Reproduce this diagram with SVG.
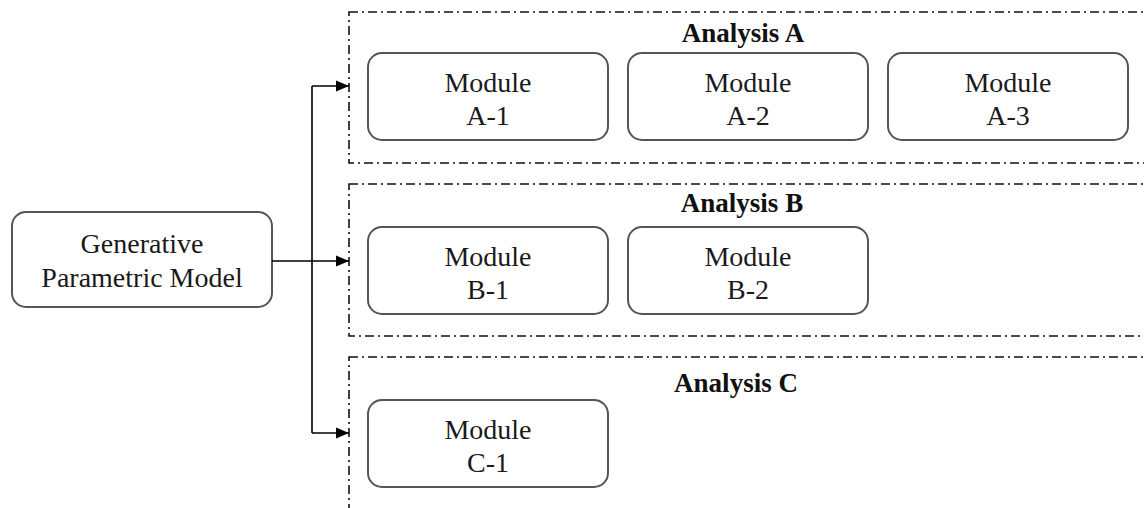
<svg xmlns="http://www.w3.org/2000/svg" width="1144" height="508" viewBox="0 0 1144 508">
<style>
.grp{fill:none;stroke:#111;stroke-width:1.6;stroke-dasharray:9 4 2 4}
.node{fill:#fff;stroke:#555;stroke-width:2}
.t{font-family:"Liberation Serif",serif;font-size:28px;fill:#1a1a1a;text-anchor:middle}
.h{font-family:"Liberation Serif",serif;font-size:27px;font-weight:bold;fill:#111;text-anchor:middle}
.c{fill:none;stroke:#000;stroke-width:1.6}
</style>
<defs>
<marker id="arr" markerWidth="14" markerHeight="12" refX="13" refY="6" orient="auto" markerUnits="userSpaceOnUse">
<path d="M0,0.5 L13,6 L0,11.5 Z" fill="#000"/>
</marker>
</defs>
<rect width="1144" height="508" fill="#fff"/>
<g id="analysisA">
<rect class="grp" x="349" y="12" width="820" height="151"/>
<text class="h" x="743" y="42">Analysis A</text>
</g>
<g id="analysisB">
<rect class="grp" x="349" y="184" width="820" height="152"/>
<text class="h" x="742" y="212">Analysis B</text>
</g>
<g id="analysisC">
<rect class="grp" x="349" y="357" width="820" height="170"/>
<text class="h" x="736" y="392">Analysis C</text>
</g>
<g id="gen">
<rect class="node" x="12" y="212" width="260" height="95" rx="14"/>
<text class="t" x="142" y="253">Generative</text>
<text class="t" x="142" y="287">Parametric Model</text>
</g>
<g id="modA1">
<rect class="node" x="368" y="53" width="240" height="87" rx="14"/>
<text class="t" x="488" y="92">Module</text>
<text class="t" x="488" y="125">A-1</text>
</g>
<g id="modA2">
<rect class="node" x="628" y="53" width="240" height="87" rx="14"/>
<text class="t" x="748" y="92">Module</text>
<text class="t" x="748" y="125">A-2</text>
</g>
<g id="modA3">
<rect class="node" x="888" y="53" width="240" height="87" rx="14"/>
<text class="t" x="1008" y="92">Module</text>
<text class="t" x="1008" y="125">A-3</text>
</g>
<g id="modB1">
<rect class="node" x="368" y="227" width="240" height="87" rx="14"/>
<text class="t" x="488" y="266">Module</text>
<text class="t" x="488" y="299">B-1</text>
</g>
<g id="modB2">
<rect class="node" x="628" y="227" width="240" height="87" rx="14"/>
<text class="t" x="748" y="266">Module</text>
<text class="t" x="748" y="299">B-2</text>
</g>
<g id="modC1">
<rect class="node" x="368" y="400" width="240" height="87" rx="14"/>
<text class="t" x="488" y="439">Module</text>
<text class="t" x="488" y="472">C-1</text>
</g>
<g id="connectors">
<line class="c" x1="312" y1="86" x2="312" y2="433"/>
<line class="c" x1="272" y1="261" x2="349" y2="261" marker-end="url(#arr)"/>
<line class="c" x1="312" y1="86" x2="349" y2="86" marker-end="url(#arr)"/>
<line class="c" x1="312" y1="433" x2="349" y2="433" marker-end="url(#arr)"/>
</g>
</svg>
